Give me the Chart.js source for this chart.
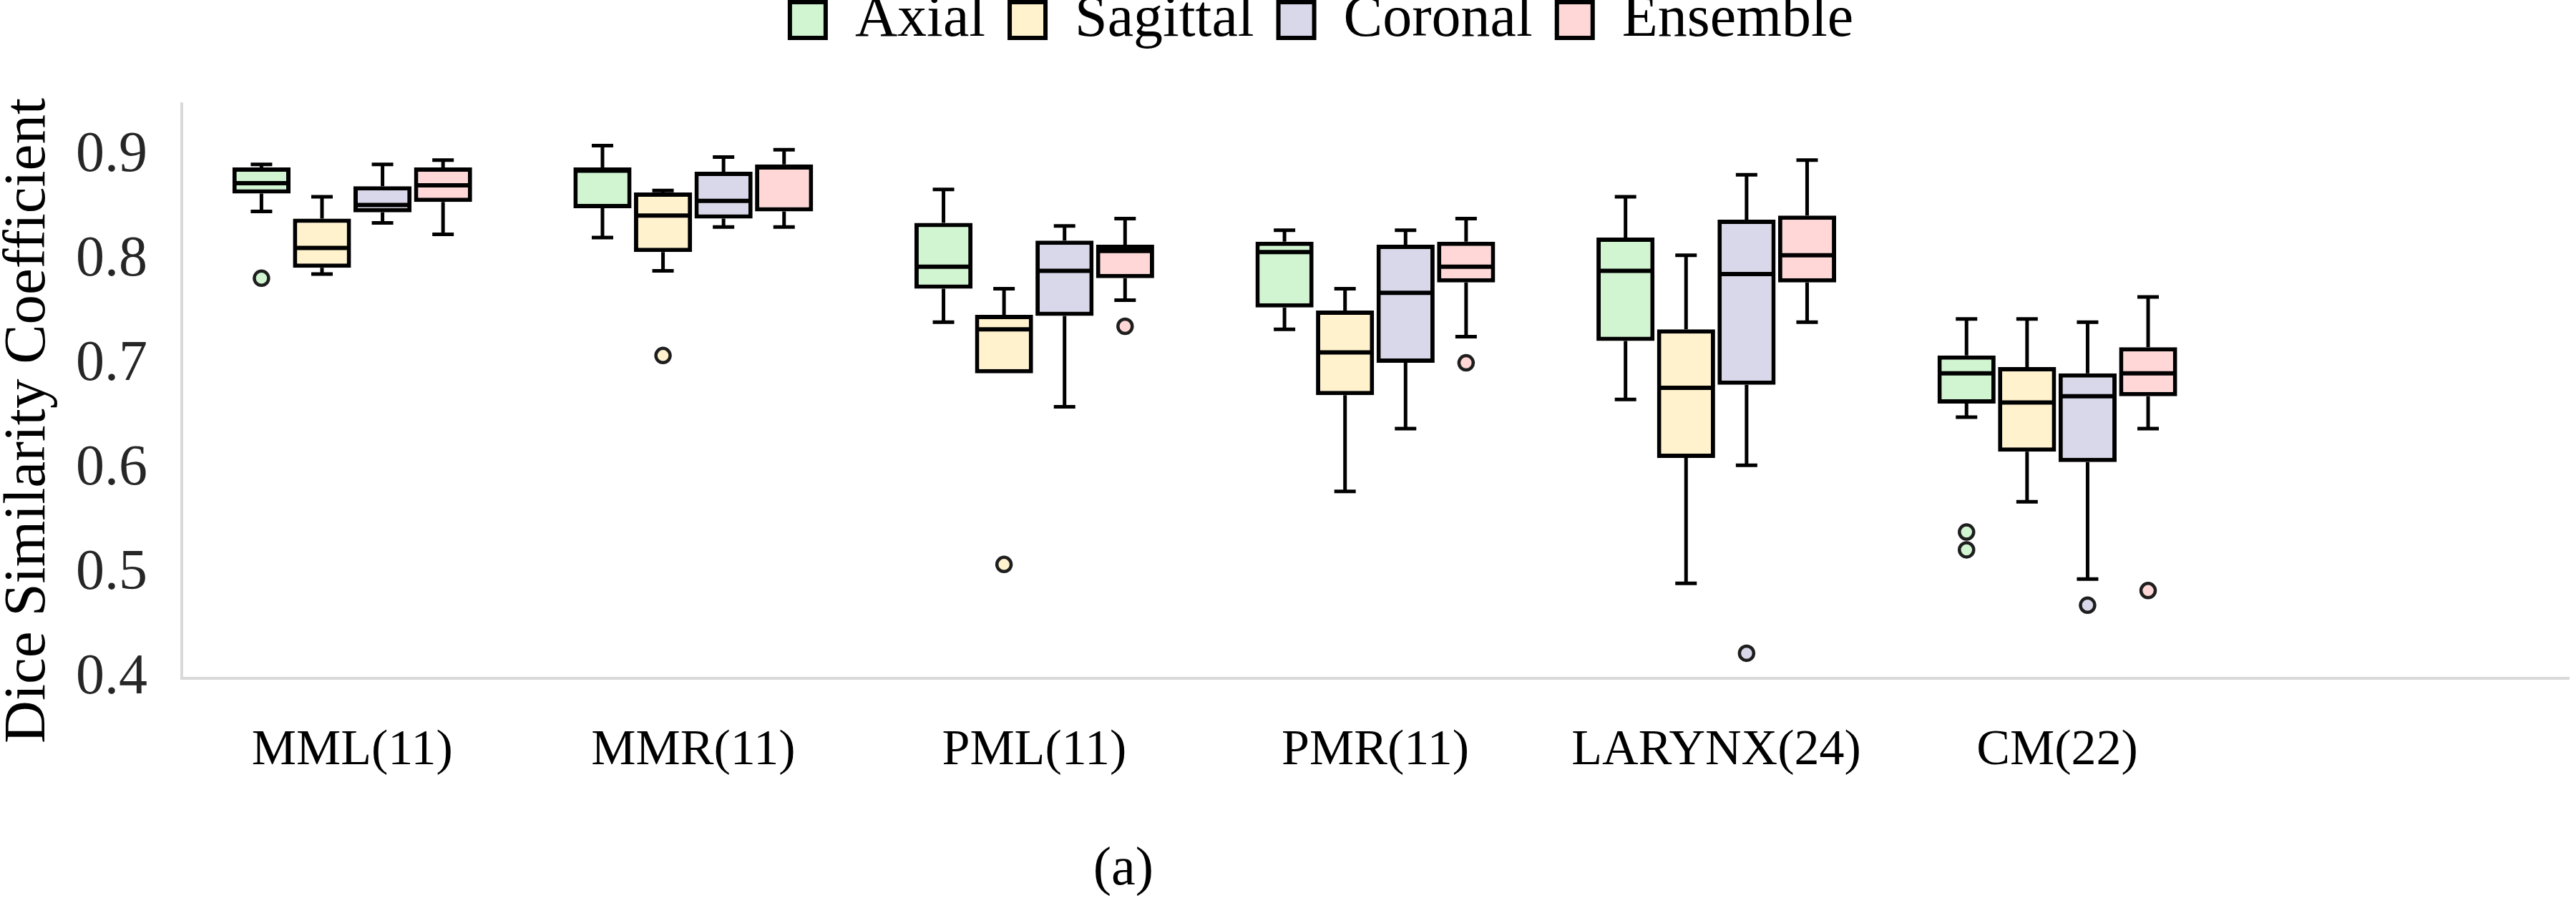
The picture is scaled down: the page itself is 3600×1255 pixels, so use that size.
<!DOCTYPE html>
<html>
<head>
<meta charset="utf-8">
<script src="https://cdn.jsdelivr.net/npm/chart.js@4.4.1/dist/chart.umd.min.js"></script>
<style>
  html, body { margin: 0; padding: 0; background: #ffffff; }
  #wrap { position: relative; width: 3600px; height: 1255px; }
  #caption { position: absolute; left: 1470px; top: 1172px; width: 200px; text-align: center;
             font-family: "Liberation Serif", "Times New Roman", serif; font-size: 76px; line-height: 1; color: #000; }
</style>
</head>
<body>
<div id="wrap">
  <canvas id="c" width="3600" height="1255"></canvas>
  <div id="caption">(a)</div>
</div>
<script>
const categories = ['MML(11)', 'MMR(11)', 'PML(11)', 'PMR(11)', 'LARYNX(24)', 'CM(22)', ''];
const seriesNames = ['Axial', 'Sagittal', 'Coronal', 'Ensemble'];
const yTicks = [0.4, 0.5, 0.6, 0.7, 0.8, 0.9];

// each entry: [min, q1, median, q3, max]
const axialStats = [[0.847,0.864,0.874,0.889,0.892],[0.822,0.850,0.886,0.889,0.910],[0.741,0.773,0.794,0.836,0.868],[0.734,0.755,0.808,0.818,0.829],[0.667,0.723,0.790,0.822,0.861],[0.650,0.663,0.692,0.709,0.744],null];
const sagittalStats = [[0.787,0.793,0.812,0.840,0.861],[0.790,0.808,0.843,0.865,0.867],[0.692,0.692,0.734,0.748,0.773],[0.579,0.671,0.712,0.752,0.773],[0.491,0.611,0.678,0.734,0.805],[0.569,0.617,0.664,0.698,0.744],null];
const coronalStats = [[0.836,0.846,0.853,0.871,0.892],[0.832,0.840,0.857,0.885,0.899],[0.660,0.747,0.790,0.819,0.833],[0.639,0.702,0.769,0.815,0.829],[0.604,0.681,0.787,0.839,0.882],[0.495,0.607,0.670,0.692,0.741],null];
const ensembleStats = [[0.825,0.856,0.872,0.889,0.896],[0.832,0.847,0.889,0.892,0.906],[0.762,0.783,0.809,0.815,0.840],[0.727,0.779,0.794,0.818,0.840],[0.741,0.779,0.805,0.843,0.896],[0.639,0.670,0.692,0.717,0.765],null];

const axialOutliers = [[0.783],[],[],[],[],[0.540,0.523],[]];
const sagittalOutliers = [[],[0.709],[0.509],[],[],[],[]];
const coronalOutliers = [[],[],[],[],[0.424],[0.470],[]];
const ensembleOutliers = [[],[],[0.737],[0.702],[],[0.484],[]];

const allStats = [axialStats, sagittalStats, coronalStats, ensembleStats];
const allOutliers = [axialOutliers, sagittalOutliers, coronalOutliers, ensembleOutliers];
const fills = ['#d0f5d0', '#fff2cc', '#d8d8ea', '#ffd7d7'];

const FONT = '"Liberation Serif", "Times New Roman", serif';

const datasets = seriesNames.map((name, d) => ({
  label: name,
  data: allStats[d].map(s => s ? [s[1], s[3]] : null),
  backgroundColor: fills[d],
  borderColor: '#000000',
  borderWidth: 6,
  borderSkipped: false,
  barPercentage: 0.96,
  categoryPercentage: 0.71,
  xAxisID: 'x',
  yAxisID: 'y'
}));

const boxPlugin = {
  id: 'boxWhiskers',
  beforeDatasetsDraw(chart) {
    const ctx = chart.ctx, ys = chart.scales.y;
    ctx.save();
    ctx.strokeStyle = '#000000';
    ctx.lineWidth = 5;
    allStats.forEach((stats, d) => {
      const meta = chart.getDatasetMeta(d);
      stats.forEach((s, i) => {
        if (!s) return;
        const x = meta.data[i].x;
        const pMin = ys.getPixelForValue(s[0]), pQ1 = ys.getPixelForValue(s[1]);
        const pQ3 = ys.getPixelForValue(s[3]), pMax = ys.getPixelForValue(s[4]);
        ctx.beginPath();
        if (s[4] > s[3]) {
          ctx.moveTo(x, pQ3); ctx.lineTo(x, pMax);
          ctx.moveTo(x - 15, pMax); ctx.lineTo(x + 15, pMax);
        }
        if (s[0] < s[1]) {
          ctx.moveTo(x, pQ1); ctx.lineTo(x, pMin);
          ctx.moveTo(x - 15, pMin); ctx.lineTo(x + 15, pMin);
        }
        ctx.stroke();
      });
    });
    ctx.restore();
  },
  afterDatasetsDraw(chart) {
    const ctx = chart.ctx, ys = chart.scales.y;
    ctx.save();
    allStats.forEach((stats, d) => {
      const meta = chart.getDatasetMeta(d);
      stats.forEach((s, i) => {
        if (!s) return;
        const el = meta.data[i];
        const x = el.x, w = el.width;
        const pMed = ys.getPixelForValue(s[2]);
        ctx.strokeStyle = '#000000';
        ctx.lineWidth = 6;
        ctx.beginPath();
        ctx.moveTo(x - w / 2 + 3, pMed); ctx.lineTo(x + w / 2 - 3, pMed);
        ctx.stroke();
        allOutliers[d][i].forEach(v => {
          const py = ys.getPixelForValue(v);
          ctx.beginPath();
          ctx.arc(x, py, 10, 0, Math.PI * 2);
          ctx.fillStyle = fills[d];
          ctx.fill();
          ctx.lineWidth = 4.5;
          ctx.strokeStyle = '#1e1e1e';
          ctx.stroke();
        });
      });
    });
    ctx.restore();
  }
};

new Chart(document.getElementById('c'), {
  type: 'bar',
  data: { labels: categories, datasets },
  plugins: [boxPlugin],
  options: {
    responsive: false,
    animation: false,
    devicePixelRatio: 1,
    layout: { padding: { left: 104, right: 10, top: -47, bottom: 0 } },
    plugins: {
      tooltip: { enabled: false },
      title: { display: false },
      legend: {
        display: true,
        position: 'top',
        align: 'center',
        labels: {
          font: { family: FONT, size: 82 },
          color: '#000000',
          boxWidth: 50,
          boxHeight: 50,
          padding: 34
        }
      }
    },
    scales: {
      x: {
        type: 'category',
        position: 'bottom',
        offset: true,
        grid: { display: false, drawTicks: false },
        border: { display: true, color: '#d9d9d9', width: 4 },
        ticks: {
          font: { family: FONT, size: 70 },
          color: '#000000',
          padding: 60,
          maxRotation: 0,
          minRotation: 0,
          autoSkip: false
        },
        afterFit: s => { s.height = 307; }
      },
      xTop: {
        type: 'linear',
        position: 'top',
        display: true,
        grid: { display: false, drawTicks: false },
        border: { display: false },
        ticks: { display: false },
        afterFit: s => { s.height = 66; }
      },
      y: {
        type: 'linear',
        position: 'left',
        min: 0.4,
        max: 0.95,
        grid: { display: false, drawTicks: false },
        border: { display: true, color: '#d9d9d9', width: 4 },
        ticks: {
          font: { family: FONT, size: 80 },
          color: '#262626',
          padding: 48,
          callback: v => Number(v).toFixed(1)
        },
        afterBuildTicks: s => { s.ticks = yTicks.map(v => ({ value: v })); },
        title: {
          display: true,
          text: 'Dice Similarity Coefficient    ',
          font: { family: FONT, size: 83 },
          color: '#000000',
          padding: { top: -114, bottom: 0 }
        },
        afterFit: s => { s.width = 150; }
      }
    }
  }
});
</script>
</body>
</html>
